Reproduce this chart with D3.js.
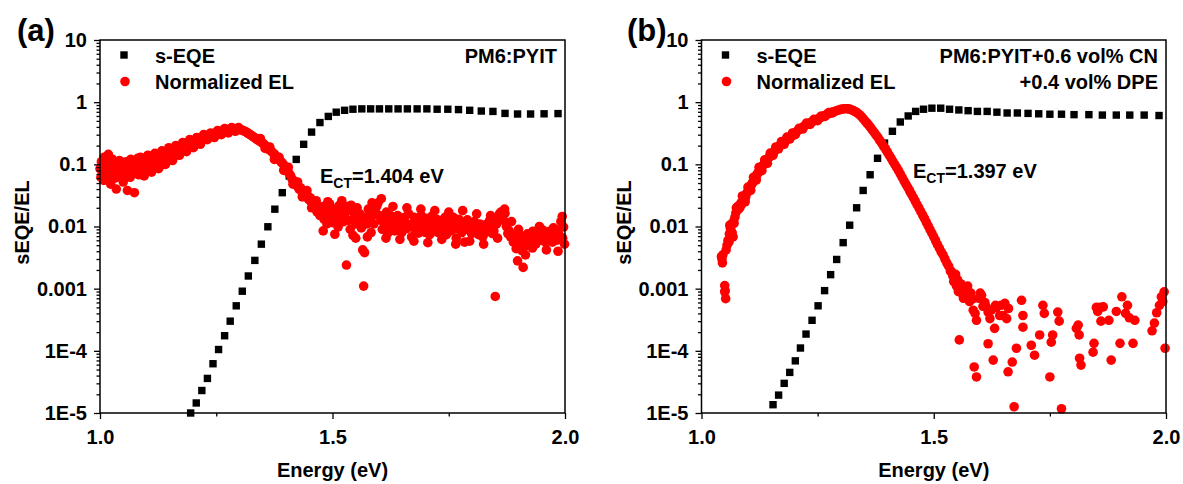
<!DOCTYPE html>
<html>
<head>
<meta charset="utf-8">
<script src="https://cdn.jsdelivr.net/npm/d3@7"></script>
<style>
	body { margin: 0; background: #fff; }
	text { font-family: "Liberation Sans", Arial, sans-serif; font-weight: bold; fill: #000; }
</style>
</head>
<body>
<svg id="chart" width="1183" height="484"></svg>
<script>
// axis ticks
const xTicks = [1.0, 1.5, 2.0]
const xMinorTicks = [1.25, 1.75]
const yTicks = [1e-5, 1e-4, 1e-3, 1e-2, 1e-1, 1, 10]
const yTickLabels = ['1E-5', '1E-4', '0.001', '0.01', '0.1', '1', '10']
const seriesNames = ['s-EQE', 'Normalized EL']

// panel (a) PM6:PYIT  [energy eV, value]
const eqeA = [
	[1.195,1.0e-5],[1.207,1.45e-5],[1.219,2.3e-5],[1.231,3.6e-5],[1.243,6.2e-5],[1.255,1.05e-4],
	[1.268,1.75e-4],[1.280,3.0e-4],[1.293,5.3e-4],[1.306,9.1e-4],[1.319,1.6e-3],[1.333,2.85e-3],
	[1.347,5.2e-3],[1.361,9.9e-3],[1.376,0.019],[1.392,0.035],[1.407,0.065],[1.422,0.12],
	[1.438,0.21],[1.455,0.33],[1.473,0.47],[1.491,0.59],[1.508,0.69],[1.526,0.74],[1.544,0.77],
	[1.563,0.78],[1.582,0.78],[1.601,0.78],[1.621,0.78],[1.641,0.78],[1.661,0.78],[1.682,0.78],
	[1.703,0.78],[1.725,0.77],[1.748,0.77],[1.771,0.76],[1.795,0.74],[1.820,0.72],[1.845,0.71],
	[1.871,0.66],[1.898,0.645],[1.926,0.645],[1.955,0.65],[1.985,0.655]
]
const elA = [
	[1.000,0.085],[1.002,0.062],[1.003,0.11],[1.005,0.075],[1.006,0.095],[1.008,0.055],[1.009,0.13],
	[1.011,0.08],[1.012,0.068],[1.014,0.1],[1.015,0.058],[1.017,0.09],[1.018,0.145],[1.020,0.072],
	[1.021,0.105],[1.023,0.048],[1.024,0.085],[1.026,0.065],[1.027,0.12],[1.029,0.078],[1.030,0.095],
	[1.032,0.06],[1.033,0.11],[1.035,0.04],[1.036,0.088],[1.038,0.07],[1.039,0.1],[1.041,0.082],
	[1.042,0.115],[1.044,0.062],[1.045,0.09],[1.047,0.075],[1.048,0.1],[1.050,0.052],[1.051,0.08],
	[1.053,0.095],[1.054,0.068],[1.056,0.11],[1.057,0.085],[1.059,0.038],[1.060,0.072],[1.062,0.1],
	[1.063,0.088],[1.065,0.062],[1.066,0.12],[1.068,0.08],[1.069,0.095],[1.071,0.07],[1.072,0.105],
	[1.074,0.035],[1.075,0.088],[1.077,0.11],[1.078,0.075],[1.080,0.095],[1.081,0.125],[1.083,0.085],
	[1.084,0.068],[1.086,0.1],[1.087,0.13],[1.089,0.09],
	[1.092,0.075],[1.095,0.11],[1.098,0.088],[1.101,0.12],[1.104,0.082],[1.107,0.105],[1.110,0.13],
	[1.113,0.09],[1.116,0.115],[1.119,0.1],[1.122,0.14],[1.125,0.095],[1.128,0.125],[1.131,0.11],
	[1.134,0.145],[1.137,0.1],[1.140,0.13],[1.143,0.155],[1.146,0.12],[1.149,0.16],[1.152,0.135],
	[1.155,0.17],[1.158,0.13],[1.161,0.16],[1.164,0.18],[1.167,0.15],[1.170,0.185],[1.173,0.16],
	[1.176,0.2],[1.179,0.17],[1.182,0.205],[1.185,0.185],[1.188,0.215],[1.191,0.19],[1.194,0.225],
	[1.197,0.2],[1.200,0.235],[1.203,0.215],[1.206,0.245],[1.209,0.225],[1.212,0.26],[1.215,0.24],
	[1.218,0.27],[1.221,0.25],[1.224,0.28],[1.227,0.265],[1.230,0.29],[1.233,0.275],[1.236,0.3],
	[1.239,0.285],[1.242,0.31],[1.245,0.295],[1.248,0.32],[1.251,0.305],[1.254,0.33],[1.257,0.315],
	[1.260,0.34],[1.263,0.325],[1.266,0.345],[1.269,0.335],[1.272,0.355],[1.275,0.34],[1.278,0.36],
	[1.281,0.35],[1.284,0.37],[1.287,0.355],[1.290,0.375],[1.293,0.36],[1.296,0.37],[1.299,0.365],
	[1.302,0.36],[1.305,0.355],[1.308,0.35],[1.311,0.34],[1.314,0.335],[1.317,0.32],[1.320,0.31],
	[1.323,0.3],[1.326,0.29],[1.329,0.28],[1.332,0.27],
	[1.095,0.065],[1.103,0.14],[1.111,0.075],[1.118,0.15],[1.126,0.085],[1.133,0.165],[1.141,0.1],
	[1.148,0.185],[1.156,0.115],[1.163,0.2],[1.171,0.14],[1.178,0.225],[1.186,0.16],[1.193,0.25],
	[1.201,0.185],[1.208,0.27],[1.216,0.21],[1.223,0.3],[1.231,0.25],[1.238,0.32],[1.246,0.27],
	[1.253,0.35],[1.261,0.3],[1.268,0.375],[1.276,0.32],[1.283,0.39],[1.291,0.34],[1.298,0.39],
	[1.335,0.26],[1.338,0.25],[1.341,0.245],[1.344,0.235],[1.347,0.225],[1.350,0.22],[1.353,0.21],
	[1.356,0.2],[1.359,0.19],[1.362,0.18],[1.365,0.17],[1.368,0.165],[1.371,0.155],[1.374,0.148],
	[1.377,0.14],[1.380,0.13],[1.383,0.125],[1.386,0.118],[1.389,0.11],[1.392,0.105],[1.395,0.098],
	[1.398,0.09],[1.401,0.085],[1.404,0.078],[1.407,0.07],[1.410,0.066],[1.413,0.058],[1.416,0.055],
	[1.419,0.05],[1.422,0.047],[1.425,0.044],[1.428,0.04],[1.431,0.042],[1.434,0.036],[1.437,0.038],
	[1.440,0.033],[1.443,0.03],[1.446,0.032],[1.449,0.027],[1.452,0.029],[1.455,0.024],[1.458,0.026],
	[1.461,0.02],[1.464,0.022],[1.467,0.017],[1.470,0.019],[1.473,0.015],
	[1.345,0.26],[1.355,0.18],[1.365,0.19],[1.375,0.12],[1.385,0.13],[1.395,0.08],[1.405,0.09],
	[1.415,0.048],[1.425,0.052],[1.435,0.03],[1.445,0.038],[1.455,0.02],[1.465,0.026],
	[1.476,0.015],[1.479,0.021],[1.482,0.013],[1.485,0.018],[1.488,0.011],[1.491,0.015],[1.494,0.023],
	[1.497,0.014],[1.500,0.0115],[1.503,0.019],[1.506,0.013],[1.509,0.017],[1.512,0.0098],[1.515,0.022],
	[1.518,0.014],[1.521,0.019],[1.524,0.012],[1.527,0.016],[1.530,0.0024],[1.532,0.021],[1.535,0.0125],
	[1.538,0.009],[1.541,0.018],[1.544,0.0072],[1.547,0.014],[1.550,0.011],[1.553,0.02],[1.556,0.0125],
	[1.559,0.016],[1.562,0.0095],[1.565,0.0042],[1.567,0.0011],[1.569,0.0038],[1.571,0.014],[1.574,0.011],
	[1.577,0.019],[1.580,0.013],[1.583,0.008],[1.586,0.015],[1.589,0.011],[1.592,0.018],[1.595,0.021],
	[1.598,0.024],[1.601,0.015],[1.604,0.0125],[1.607,0.009],[1.610,0.014],[1.613,0.01],[1.616,0.017],
	[1.619,0.0078],[1.622,0.012],[1.625,0.015],[1.628,0.0095],[1.631,0.013],[1.634,0.0085],[1.637,0.011],
	[1.640,0.015],[1.643,0.01],[1.646,0.0125],[1.649,0.008],[1.652,0.011],[1.655,0.014],[1.658,0.0092],
	[1.661,0.011],[1.664,0.016],[1.667,0.0098],[1.670,0.0068],[1.673,0.011],[1.676,0.014],[1.679,0.0088],
	[1.682,0.0125],[1.685,0.0078],[1.688,0.0105],[1.691,0.015],[1.694,0.0092],[1.697,0.0115],[1.700,0.008],
	[1.703,0.0135],[1.706,0.01],[1.709,0.0074],[1.712,0.011],[1.715,0.015],[1.718,0.0085],[1.721,0.0105],
	[1.724,0.013],[1.727,0.008],[1.730,0.0098],[1.733,0.0125],[1.736,0.0088],[1.739,0.011],[1.742,0.014],
	[1.745,0.0074],[1.748,0.01],[1.751,0.012],[1.754,0.0085],[1.757,0.0105],[1.760,0.014],[1.763,0.0092],
	[1.766,0.0065],[1.769,0.011],[1.772,0.013],[1.775,0.0098],[1.778,0.008],[1.781,0.0115],[1.784,0.0056],
	[1.787,0.0105],[1.790,0.0128],[1.793,0.0088],[1.796,0.011],[1.799,0.0077],[1.802,0.01],[1.805,0.012],
	[1.808,0.0085],[1.811,0.0105],[1.814,0.0074],[1.817,0.011],[1.820,0.0092],[1.823,0.0068],[1.826,0.01],
	[1.829,0.008],[1.832,0.011],[1.835,0.0088],[1.838,0.0125],[1.841,0.0098],[1.844,0.0077],[1.847,0.0085],
	[1.850,0.00075],[1.853,0.011],[1.856,0.014],[1.859,0.016],[1.862,0.017],[1.865,0.0148],[1.868,0.0125],
	[1.871,0.0163],[1.874,0.01],[1.877,0.0077],[1.880,0.0085],[1.883,0.0068],[1.886,0.0074],[1.889,0.0056],
	[1.892,0.0065],[1.895,0.0044],[1.898,0.0028],[1.901,0.0052],[1.904,0.0072],[1.907,0.0041],[1.910,0.0022],
	[1.913,0.006],[1.916,0.0049],[1.919,0.0076],[1.922,0.0064],[1.925,0.0056],[1.928,0.0072],[1.931,0.0084],
	[1.934,0.0064],[1.937,0.0052],[1.940,0.0068],[1.943,0.008],[1.946,0.006],[1.949,0.0072],[1.952,0.0088],
	[1.955,0.0068],[1.958,0.0056],[1.961,0.0076],[1.964,0.0064],[1.967,0.0084],[1.970,0.0072],[1.973,0.0056],
	[1.976,0.0068],[1.979,0.008],[1.982,0.006],[1.985,0.0088],[1.988,0.0072],[1.991,0.012],[1.994,0.0145],
	[1.997,0.0098],[1.999,0.0052],
	[1.480,0.0085],[1.490,0.025],[1.505,0.0075],[1.520,0.026],[1.540,0.022],[1.550,0.0065],[1.575,0.0068],
	[1.585,0.024],[1.605,0.028],[1.615,0.0065],[1.630,0.021],[1.645,0.0062],[1.660,0.02],[1.675,0.0058],
	[1.690,0.019],[1.705,0.0055],[1.720,0.018],[1.735,0.0062],[1.750,0.017],[1.765,0.0052],[1.780,0.018],
	[1.795,0.0058],[1.810,0.016],[1.825,0.0052],[1.840,0.015],[1.855,0.0065],[1.870,0.019],[1.885,0.012],
	[1.900,0.009],[1.915,0.0035],[1.930,0.0045],[1.945,0.01],[1.960,0.0042],[1.975,0.0095],[1.985,0.004],
	[1.995,0.0065]
]

// panel (b) PM6:PYIT+0.6 vol% CN +0.4 vol% DPE
const eqeB = [
	[1.154,1.36e-5],[1.166,1.94e-5],[1.178,3.0e-5],[1.190,4.5e-5],[1.202,6.9e-5],[1.213,1.11e-4],
	[1.225,1.86e-4],[1.238,3.1e-4],[1.251,5.3e-4],[1.265,9.3e-4],[1.278,1.68e-3],[1.291,2.95e-3],
	[1.305,5.5e-3],[1.319,0.0105],[1.334,0.020],[1.348,0.038],[1.363,0.068],[1.379,0.125],
	[1.394,0.22],[1.411,0.34],[1.428,0.48],[1.445,0.60],[1.461,0.71],[1.478,0.77],[1.496,0.80],
	[1.515,0.80],[1.534,0.77],[1.554,0.75],[1.574,0.73],[1.594,0.71],[1.615,0.71],[1.636,0.69],
	[1.658,0.67],[1.680,0.67],[1.703,0.66],[1.726,0.65],[1.750,0.64],[1.775,0.64],[1.802,0.63],
	[1.834,0.63],[1.863,0.62],[1.893,0.62],[1.922,0.62],[1.953,0.62],[1.985,0.61]
]
const elB = [
	[1.043,0.0033],[1.044,0.003],[1.045,0.0026],[1.046,0.0035],[1.050,0.00112],[1.051,0.00093],
	[1.052,0.00069],[1.050,0.00089],[1.053,0.0042],[1.055,0.005],[1.057,0.006],[1.059,0.0056],
	[1.060,0.0076],[1.061,0.0105],[1.062,0.0095],[1.063,0.0089],[1.065,0.011],[1.066,0.0079],
	[1.068,0.0068],[1.069,0.012],[1.070,0.0112],[1.072,0.0141],[1.074,0.0166],[1.075,0.02],
	[1.076,0.019],[1.078,0.021],[1.080,0.019],[1.082,0.022],[1.083,0.0204],[1.085,0.024],
	[1.087,0.023],[1.089,0.026],[1.091,0.0275],[1.093,0.03],[1.095,0.0295],[1.097,0.034],
	[1.099,0.0355],[1.101,0.038],[1.103,0.04],[1.105,0.0437],[1.107,0.0457],[1.109,0.05],
	[1.111,0.0513],[1.113,0.056],[1.115,0.059],[1.117,0.0646],[1.119,0.0676],[1.121,0.0724],
	[1.123,0.0759],[1.125,0.081],[1.128,0.087],[1.131,0.093],[1.134,0.1],[1.137,0.107],
	[1.140,0.115],[1.143,0.123],[1.146,0.132],[1.149,0.138],[1.152,0.148],[1.155,0.155],
	[1.158,0.166],[1.161,0.174],[1.164,0.182],[1.167,0.195],[1.170,0.204],[1.173,0.214],
	[1.176,0.224],[1.179,0.234],[1.182,0.245],[1.185,0.257],[1.188,0.269],[1.191,0.275],
	[1.194,0.288],[1.197,0.302],[1.200,0.316],[1.204,0.331],[1.208,0.351],[1.212,0.367],
	[1.216,0.385],[1.220,0.407],[1.224,0.427],[1.228,0.442],[1.232,0.457],[1.236,0.473],
	[1.240,0.49],[1.244,0.507],[1.248,0.525],[1.252,0.543],[1.256,0.562],[1.260,0.582],
	[1.264,0.603],[1.268,0.624],[1.272,0.646],[1.276,0.661],[1.280,0.684],[1.284,0.70],
	[1.288,0.716],[1.292,0.733],[1.296,0.75],[1.300,0.767],[1.304,0.776],[1.308,0.785],
	[1.312,0.785],[1.316,0.78],[1.320,0.767],[1.324,0.75],[1.328,0.724],[1.332,0.70],
	[1.336,0.668],[1.340,0.631],[1.344,0.589],[1.348,0.543],[1.352,0.501],[1.356,0.462],
	[1.360,0.427],[1.364,0.389],[1.368,0.355],[1.372,0.324],[1.376,0.295],[1.380,0.269],
	[1.384,0.24],[1.388,0.219],[1.392,0.195],[1.396,0.178],[1.400,0.158],[1.404,0.141],
	[1.408,0.126],[1.412,0.112],[1.416,0.1],[1.420,0.089],[1.424,0.079],[1.428,0.07],
	[1.432,0.0617],[1.436,0.0543],[1.440,0.0479],[1.444,0.0427],[1.448,0.0376],[1.452,0.0331],
	[1.456,0.0292],[1.460,0.0257],[1.464,0.0224],[1.468,0.02],[1.472,0.0174],[1.476,0.0153],
	[1.480,0.0135],[1.484,0.0117],[1.488,0.0102],[1.492,0.0089],[1.496,0.0078],[1.500,0.0068],
	[1.504,0.0059],[1.508,0.0051],[1.512,0.0045],[1.516,0.0039],[1.520,0.0035],[1.524,0.003],
	[1.528,0.0026],[1.532,0.0023],
	[1.088,0.031],[1.094,0.025],[1.100,0.043],[1.106,0.038],[1.112,0.062],[1.118,0.056],
	[1.124,0.09],[1.130,0.079],[1.136,0.118],[1.142,0.104],[1.148,0.152],[1.154,0.14],
	[1.160,0.19],[1.166,0.178],[1.172,0.232],[1.178,0.21],[1.184,0.275],[1.190,0.255],
	[1.196,0.32],[1.202,0.3],[1.210,0.38],[1.218,0.37],[1.226,0.46],[1.234,0.44],
	[1.242,0.53],[1.250,0.505],[1.258,0.6],[1.266,0.59],[1.274,0.68],[1.282,0.67],
	[1.536,0.0019],[1.538,0.0019],[1.541,0.0016],[1.543,0.0013],[1.545,0.00145],[1.547,0.0017],
	[1.549,0.0011],[1.551,0.0014],[1.553,0.0009],[1.555,0.00015],[1.556,0.001],[1.558,0.0012],
	[1.560,0.00085],[1.562,0.0011],[1.564,0.0007],[1.567,0.00078],[1.570,0.0009],[1.573,0.0011],
	[1.577,0.00062],[1.580,0.00085],[1.583,0.00068],[1.585,0.00045],[1.587,5.5e-5],[1.589,0.0004],
	[1.592,0.00031],[1.592,3.8e-5],[1.597,0.0007],[1.600,0.00085],[1.603,0.00078],[1.606,0.00052],
	[1.610,0.0006],[1.613,0.00051],[1.617,0.00042],[1.617,0.00013],[1.621,0.00033],[1.624,0.00045],
	[1.628,7.1e-5],[1.631,0.00023],[1.633,0.00054],[1.635,0.0005],[1.642,0.00037],[1.645,0.00054],
	[1.649,0.00037],[1.653,0.00058],[1.657,0.00033],[1.660,4.6e-5],[1.661,0.00048],[1.669,6.6e-5],
	[1.673,1.26e-5],[1.678,0.00011],[1.689,0.00065],[1.692,0.00037],[1.692,0.00024],[1.710,0.000123],
	[1.717,8.5e-5],[1.728,0.00018],[1.735,0.00054],[1.738,0.0004],[1.750,3.8e-5],[1.753,0.000138],
	[1.756,0.00018],[1.767,0.00042],[1.770,0.0003],[1.775,1.17e-5],[1.807,0.00023],[1.811,0.00026],
	[1.813,0.00018],[1.814,7.6e-5],[1.817,5.9e-5],[1.843,9.5e-5],[1.845,0.000132],[1.850,0.0005],
	[1.853,0.00043],[1.858,0.0005],[1.860,0.0003],[1.865,0.00051],[1.877,0.00031],[1.882,7.1e-5],
	[1.893,0.00043],[1.901,0.000132],[1.905,0.00074],[1.913,0.0004],[1.917,0.00054],[1.921,0.00034],
	[1.929,0.000132],[1.933,0.00031],[1.970,0.00021],[1.975,0.00028],[1.980,0.00041],[1.986,0.00054],
	[1.990,0.00074],[1.993,0.00062],[1.996,0.00089],[1.998,0.00011]
]

const panels = [
	{ tag: '(a)', sample: ['PM6:PYIT'], ect: '1.404', eqe: eqeA, el: elA },
	{ tag: '(b)', sample: ['PM6:PYIT+0.6 vol% CN', '+0.4 vol% DPE'], ect: '1.397', eqe: eqeB, el: elB }
]

// layout (pixels)
const LAYOUT = [
	{ left: 100, right: 565, tagX: 17, ylabX: 29, ectX: 320, ectY: 182.5 },
	{ left: 701.5, right: 1166, tagX: 627, ylabX: 630.5, ectX: 913, ectY: 178 }
]
const PLOT_TOP = 40
const PLOT_BOTTOM = 413
const FONT = 20
const SQ = 7.4
const DOT_R = 4.8

const svg = d3.select('#chart')

function styleAxis(g) {
	g.attr('font-size', FONT).attr('font-family', null)
	g.select('.domain').remove()
	g.selectAll('.tick line').attr('stroke', '#000').attr('stroke-width', 1.3)
}

function drawPanel(p, lay) {
	const x = d3.scaleLinear().domain([1, 2]).range([lay.left, lay.right])
	const y = d3.scaleLog().domain([1e-5, 10]).range([PLOT_BOTTOM, PLOT_TOP])
	const g = svg.append('g')

	// s-EQE squares, then EL dots on top
	g.append('g')
		.selectAll('rect')
		.data(p.eqe)
		.join('rect')
		.attr('x', d => x(d[0]) - SQ / 2)
		.attr('y', d => y(d[1]) - SQ / 2)
		.attr('width', SQ)
		.attr('height', SQ)
		.attr('fill', '#000')

	g.append('g')
		.selectAll('circle')
		.data(p.el)
		.join('circle')
		.attr('cx', d => x(d[0]))
		.attr('cy', d => y(d[1]))
		.attr('r', DOT_R)
		.attr('fill', '#f00')

	// frame
	g.append('rect')
		.attr('x', lay.left)
		.attr('y', PLOT_TOP)
		.attr('width', lay.right - lay.left)
		.attr('height', PLOT_BOTTOM - PLOT_TOP)
		.attr('fill', 'none')
		.attr('stroke', '#000')
		.attr('stroke-width', 1.5)

	// x axis
	g.append('g')
		.attr('transform', `translate(0,${PLOT_BOTTOM})`)
		.call(d3.axisBottom(x).tickValues(xTicks).tickFormat(d3.format('.1f')).tickSize(6).tickSizeOuter(0).tickPadding(10.5))
		.call(styleAxis)
	g.append('g')
		.attr('transform', `translate(0,${PLOT_BOTTOM})`)
		.call(d3.axisBottom(x).tickValues(xMinorTicks).tickFormat('').tickSize(3.5).tickSizeOuter(0))
		.call(styleAxis)

	// y axis (log)
	const yMinor = yTicks.slice(0, -1).flatMap(d => d3.range(2, 10).map(k => d * k))
	g.append('g')
		.attr('transform', `translate(${lay.left},0)`)
		.call(d3.axisLeft(y).tickValues(yTicks).tickFormat((d, i) => yTickLabels[i]).tickSize(6).tickSizeOuter(0).tickPadding(7))
		.call(styleAxis)
	g.append('g')
		.attr('transform', `translate(${lay.left},0)`)
		.call(d3.axisLeft(y).tickValues(yMinor).tickFormat('').tickSize(3.5).tickSizeOuter(0))
		.call(styleAxis)

	// axis titles
	g.append('text')
		.attr('x', (lay.left + lay.right) / 2)
		.attr('y', 477)
		.attr('text-anchor', 'middle')
		.attr('font-size', FONT)
		.text('Energy (eV)')
	g.append('text')
		.attr('transform', `translate(${lay.ylabX},${(PLOT_TOP + PLOT_BOTTOM) / 2 - 4}) rotate(-90)`)
		.attr('text-anchor', 'middle')
		.attr('font-size', FONT)
		.text('sEQE/EL')

	// panel tag
	g.append('text')
		.attr('x', lay.tagX)
		.attr('y', 41)
		.attr('font-size', 31)
		.text(p.tag)

	// legend
	const lx = lay.left + 24
	g.append('rect')
		.attr('x', lx - SQ / 2)
		.attr('y', 55 - SQ / 2)
		.attr('width', SQ)
		.attr('height', SQ)
		.attr('fill', '#000')
	g.append('circle').attr('cx', lx + 1).attr('cy', 81.5).attr('r', DOT_R).attr('fill', '#f00')
	g.append('text').attr('x', lay.left + 55).attr('y', 62.5).attr('font-size', FONT).text(seriesNames[0])
	g.append('text').attr('x', lay.left + 55).attr('y', 89).attr('font-size', FONT).text(seriesNames[1])

	// sample name
	p.sample.forEach((s, i) => {
		g.append('text')
			.attr('x', lay.right - 8)
			.attr('y', 62.5 + i * 26.5)
			.attr('text-anchor', 'end')
			.attr('font-size', FONT)
			.text(s)
	})

	// E_CT annotation
	const ect = g.append('text').attr('x', lay.ectX).attr('y', lay.ectY).attr('font-size', FONT)
	ect.append('tspan').text('E')
	ect.append('tspan').attr('font-size', 14).attr('dy', 5).text('CT')
	ect.append('tspan').attr('dy', -5).text('=' + p.ect + ' eV')
}

panels.forEach((p, i) => drawPanel(p, LAYOUT[i]))
</script>
</body>
</html>
